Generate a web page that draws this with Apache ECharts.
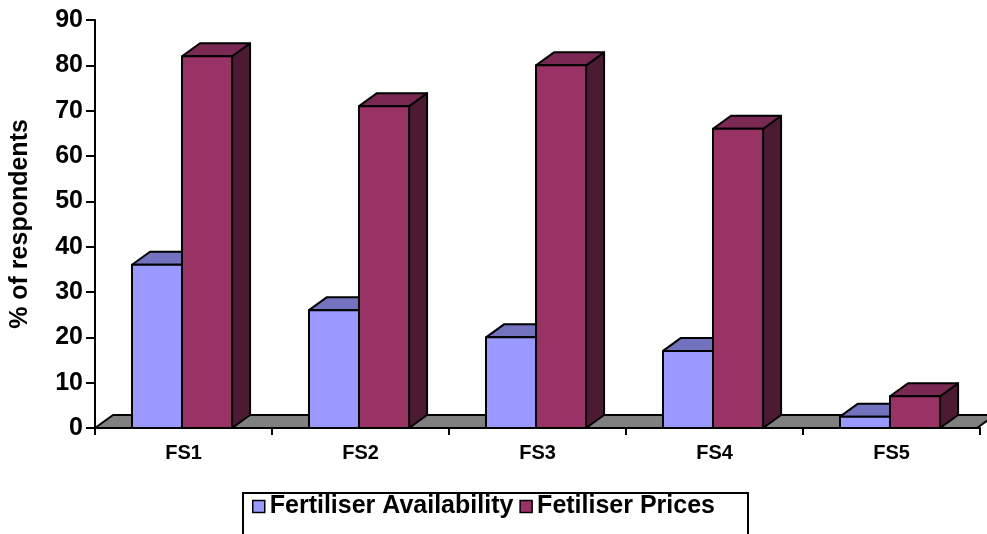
<!DOCTYPE html>
<html>
<head>
<meta charset="utf-8">
<script src="https://cdn.jsdelivr.net/npm/echarts@6/dist/echarts.min.js"></script>
<style>
  html, body { margin: 0; padding: 0; background: #fff; }
  #chart { width: 987px; height: 534px; }
</style>
</head>
<body>
<div id="chart"></div>
<script>
// Survey results: share of respondents citing each constraint, by farming system
const categories = ['FS1', 'FS2', 'FS3', 'FS4', 'FS5'];
const availability = [36, 26, 20, 17, 2.5];
const prices = [82, 71, 80, 66, 7];
const yTicks = { min: 0, max: 90, interval: 10 };

const FONT = '"Liberation Sans", Arial, sans-serif';
const DEPTH_X = 18, DEPTH_Y = 13;

// Draws an extruded column (front, top and side faces) from the axis scales
function columnRenderer(offsetFrac, widthFrac, faces) {
  return function (params, api) {
    const ci = api.value(0);
    const v = api.value(1);
    const base = api.coord([ci, 0]);
    const top = api.coord([ci, v]);
    const band = api.size([1, 0])[0];
    const x0 = base[0] + band * offsetFrac;
    const x1 = x0 + band * widthFrac;
    const y0 = base[1];
    const y1 = top[1];
    const stroke = { stroke: '#000', lineWidth: 2, lineJoin: 'round' };
    return {
      type: 'group',
      children: [
        { type: 'polygon', shape: { points: [[x1, y0], [x1 + DEPTH_X, y0 - DEPTH_Y], [x1 + DEPTH_X, y1 - DEPTH_Y], [x1, y1]] },
          style: Object.assign({ fill: faces.side }, stroke) },
        { type: 'polygon', shape: { points: [[x0, y1], [x1, y1], [x1 + DEPTH_X, y1 - DEPTH_Y], [x0 + DEPTH_X, y1 - DEPTH_Y]] },
          style: Object.assign({ fill: faces.top }, stroke) },
        { type: 'polygon', shape: { points: [[x0, y0], [x1, y0], [x1, y1], [x0, y1]] },
          style: Object.assign({ fill: faces.front }, stroke) }
      ]
    };
  };
}

// Flat grey floor under the columns
function floorRenderer(params, api) {
  const cs = params.coordSys;
  const yb = cs.y + cs.height;
  const xl = cs.x, xr = cs.x + cs.width - 3;
  return {
    type: 'polygon',
    shape: { points: [[xl, yb], [xr, yb], [xr + DEPTH_X, yb - DEPTH_Y], [xl + DEPTH_X, yb - DEPTH_Y]] },
    style: { fill: '#808080', stroke: '#000', lineWidth: 2, lineJoin: 'round' }
  };
}

const blueFaces = { front: '#9999FF', top: '#7272BF', side: '#4C4C80' };
const redFaces = { front: '#993366', top: '#7A2952', side: '#4C1A33' };

const chart = echarts.init(document.getElementById('chart'), null, { renderer: 'canvas' });
chart.setOption({
  animation: false,
  backgroundColor: '#fff',
  grid: { left: 95, right: 7, top: 20, bottom: 106, containLabel: false },
  xAxis: {
    type: 'category',
    data: categories,
    boundaryGap: true,
    axisLine: { show: true, lineStyle: { color: '#000', width: 2 } },
    axisTick: { show: true, length: 7, lineStyle: { color: '#000', width: 2 } },
    axisLabel: { color: '#000', fontFamily: FONT, fontWeight: 'bold', fontSize: 20, margin: 15 },
    splitLine: { show: false }
  },
  yAxis: {
    type: 'value',
    min: yTicks.min,
    max: yTicks.max,
    interval: yTicks.interval,
    name: '% of respondents',
    nameLocation: 'middle',
    nameRotate: 90,
    nameGap: 62,
    nameTextStyle: { color: '#000', fontFamily: FONT, fontWeight: 'bold', fontSize: 25 },
    axisLine: { show: true, lineStyle: { color: '#000', width: 2 } },
    axisTick: { show: true, length: 9, lineStyle: { color: '#000', width: 2 } },
    axisLabel: { color: '#000', fontFamily: FONT, fontWeight: 'bold', fontSize: 25, margin: 12 },
    splitLine: { show: false }
  },
  legend: {
    left: 243,
    top: 493,
    orient: 'horizontal',
    icon: 'rect',
    itemWidth: 12,
    itemHeight: 12,
    itemGap: 6,
    padding: [1, 33, 40, 9],
    borderColor: '#000',
    borderWidth: 2,
    borderRadius: 0,
    itemStyle: { borderColor: '#000', borderWidth: 1.5 },
    textStyle: { color: '#000', fontFamily: FONT, fontWeight: 'bold', fontSize: 25, padding: [0, 0, 0, 0] },
    data: ['Fertiliser Availability', 'Fetiliser Prices']
  },
  series: [
    {
      name: 'floor',
      type: 'custom',
      renderItem: floorRenderer,
      data: [[0, 0]],
      silent: true,
      z: 1
    },
    {
      name: 'Fertiliser Availability',
      type: 'custom',
      renderItem: columnRenderer(-0.291, 0.283, blueFaces),
      itemStyle: { color: blueFaces.front },
      data: availability.map((v, i) => [i, v]),
      encode: { x: 0, y: 1 },
      z: 2
    },
    {
      name: 'Fetiliser Prices',
      type: 'custom',
      renderItem: columnRenderer(-0.0085, 0.283, redFaces),
      itemStyle: { color: redFaces.front },
      data: prices.map((v, i) => [i, v]),
      encode: { x: 0, y: 1 },
      z: 3
    }
  ]
});
</script>
</body>
</html>
